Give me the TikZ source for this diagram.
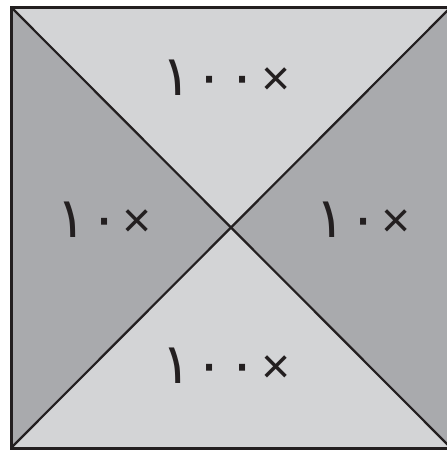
\documentclass[tikz,border=0pt]{standalone}
\usepackage{fontspec}
\newfontfamily\arabicfont[Script=Arabic]{DejaVu Sans}
\newfontfamily\signfont{Liberation Sans}
\definecolor{ink}{HTML}{231F20}
\definecolor{lightgrey}{HTML}{D3D4D6}
\definecolor{darkgrey}{HTML}{A9AAAD}
\newcommand{\factorsize}{\fontsize{56}{60}\selectfont}
\newcommand{\gap}{\hspace{3pt}}
\newcommand{\timessign}{{\signfont\fontsize{50}{50}\selectfont ×}}
\begin{document}
\begin{tikzpicture}[x=1pt,y=-1pt,font=\arabicfont\factorsize,
  factor/.style={inner sep=0,text=ink}]
\useasboundingbox (0,0) rectangle (447,451);
\clip (0,0) rectangle (447,451);
\coordinate (nw) at (11,7);
\coordinate (ne) at (451,7);
\coordinate (sw) at (11,448);
\coordinate (se) at (451,448);
\coordinate (mid) at (231,228);
\fill[lightgrey] (nw) -- (ne) -- (mid) -- cycle;
\fill[lightgrey] (sw) -- (se) -- (mid) -- cycle;
\fill[darkgrey] (nw) -- (sw) -- (mid) -- cycle;
\fill[darkgrey] (ne) -- (se) -- (mid) -- cycle;
\draw[ink,line width=3pt] (nw) rectangle (se);
\draw[ink,line width=2.2pt] (nw) -- (se);
\draw[ink,line width=2.2pt] (sw) -- (ne);
\node[factor] (top) at (226,78) {١\gap٠\gap٠\gap\timessign};
\node[factor] (left) at (104,220) {١\gap٠\gap\timessign};
\node[factor] (right) at (363,220) {١\gap٠\gap\timessign};
\node[factor] (bottom) at (226,366) {١\gap٠\gap٠\gap\timessign};
\end{tikzpicture}
\end{document}
